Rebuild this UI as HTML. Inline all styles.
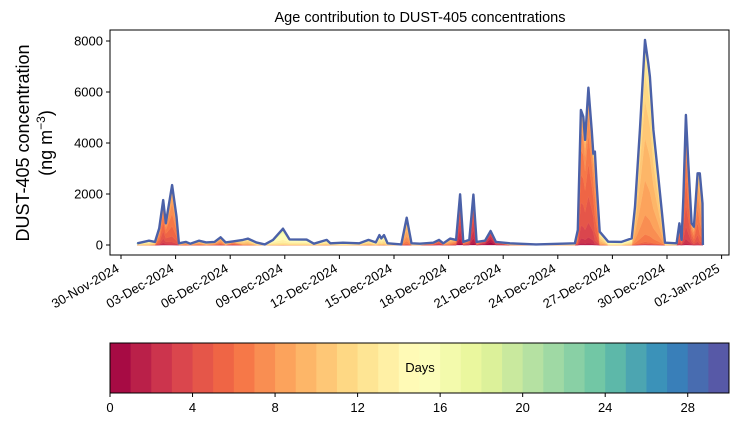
<!DOCTYPE html>
<html><head><meta charset="utf-8"><style>
body{margin:0;background:#fff;}
svg{display:block;font-family:"Liberation Sans",sans-serif;}
</style></head><body>
<svg id="chart" width="739" height="425"></svg>
<script>
const days=[0.9,1.54,1.87,2.1,2.32,2.46,2.81,3.05,3.18,3.56,3.8,4.28,4.68,5.14,5.47,5.75,6.15,6.7,6.97,7.43,7.9,8.35,8.9,9.26,10.2,10.6,11.3,11.5,12.2,13.1,13.6,14,14.2,14.3,14.45,14.65,15.4,15.7,15.96,16.43,17.16,17.47,17.71,18.08,18.41,18.63,18.81,19.14,19.36,19.54,20,20.31,20.6,21.37,22.8,24.94,25.1,25.27,25.4,25.5,25.68,25.86,25.95,26.04,26.13,26.3,26.77,27.5,28.06,28.24,28.51,28.79,28.97,29.06,29.25,29.52,29.89,30.53,30.68,30.8,30.9,31.04,31.17,31.35,31.48,31.68,31.8,31.95,31.97];
const totals=[65,170,120,650,1760,850,2350,1110,65,120,50,170,100,120,300,100,140,200,250,100,25,200,640,220,210,50,200,65,90,65,200,100,390,260,390,65,25,1070,65,50,90,200,65,250,200,1990,120,200,1975,120,170,550,120,65,25,65,590,5300,5030,4120,6170,4510,3590,3660,2420,520,130,120,260,1500,4510,8040,7120,6600,4510,2680,90,65,850,200,1900,5100,3200,850,720,2810,2810,1630,0];
const meanAges=[12,12,10,6,5,5,6,6,10,8,10,8,10,8,7,10,6,10,10,12,12,13,14,13,13,12,12,12,13,12,11,12,12,12,12,12,12,8,12,12,6,4,8,8,6,3,6,4,3,6,2,1,3,10,12,12,6,5,5,5,5,5,5,6,6,10,14,14,12,9,9,9,9,9,9,9,12,12,5,5,5,5,5,5,6,6,7,7,7];
const yTicks=[0,2000,4000,6000,8000];
const xTickDays=[0,3,6,9,12,15,18,21,24,27,30,33];
const xTickLabels=["30-Nov-2024","03-Dec-2024","06-Dec-2024","09-Dec-2024","12-Dec-2024","15-Dec-2024","18-Dec-2024","21-Dec-2024","24-Dec-2024","27-Dec-2024","30-Dec-2024","02-Jan-2025"];
const cbTicks=[0,4,8,12,16,20,24,28];

const NS="http://www.w3.org/2000/svg";
const svg=document.getElementById('chart');
const PL=110,PR=729,PT=30,PB=255;
const xS=d=>121+d*18.2;
const yS=v=>245-v*0.0255;
const anchors=["#9e0142","#d53e4f","#f46d43","#fdae61","#fee08b","#ffffbf","#e6f598","#abdda4","#66c2a5","#3288bd","#5e4fa2"];
function hex(h){return [1,3,5].map(i=>parseInt(h.substr(i,2),16));}
function spectral(t){const p=t*10,i=Math.min(9,Math.floor(p)),f=p-i;const a=hex(anchors[i]),b=hex(anchors[i+1]);return `rgb(${a.map((c,k)=>Math.round(c+(b[k]-c)*f)).join(',')})`;}
function el(tag,attrs,parent){const e=document.createElementNS(NS,tag);for(const k in attrs)e.setAttribute(k,attrs[k]);(parent||svg).appendChild(e);return e;}

function weights(m){const w=[];let s=0;for(let k=0;k<30;k++){const sd=k<m?1.6:2.2;let v=Math.exp(-Math.pow((k-m)/sd,2)/2)+0.004;w.push(v);s+=v;}return w.map(v=>v/s);}
const W=meanAges.map(weights);
const bands=el('g',{});  
const cum=days.map(()=>0);
for(let k=0;k<30;k++){
  const lower=cum.slice();
  for(let i=0;i<days.length;i++)cum[i]+=W[i][k]*totals[i];
  let d='';
  for(let i=0;i<days.length;i++)d+=(i?'L':'M')+xS(days[i]).toFixed(1)+','+yS(cum[i]).toFixed(1);
  for(let i=days.length-1;i>=0;i--)d+='L'+xS(days[i]).toFixed(1)+','+yS(lower[i]).toFixed(1);
  const p=el('path',{d:d+'Z',fill:spectral((k+0.5)/30),stroke:spectral((k+0.5)/30),'stroke-width':k>=20?1.2:0.3},bands);
  
  
}
let ld='';
for(let i=0;i<days.length;i++)ld+=(i?'L':'M')+xS(days[i]).toFixed(1)+','+yS(totals[i]).toFixed(1);
const line=el('path',{d:ld,fill:'none',stroke:'#4b61a8','stroke-width':2.4,'stroke-linejoin':'round'});



const frame=el('rect',{x:PL,y:PT,width:PR-PL,height:PB-PT,fill:'none',stroke:'#000','stroke-width':1});


yTicks.forEach(v=>{
  el('line',{x1:PL-4,x2:PL,y1:yS(v),y2:yS(v),stroke:'#000'});
  const t=el('text',{x:PL-7,y:yS(v)+4.5,'text-anchor':'end','font-size':13});t.textContent=v;
  
  
});
xTickDays.forEach((d,i)=>{
  const x=xS(d);
  el('line',{x1:x,x2:x,y1:PB,y2:PB+4,stroke:'#000'});
  const tx=x-1,ty=PB+16;
  const t=el('text',{x:tx,y:ty,'text-anchor':'end','font-size':13,transform:`rotate(-30 ${tx} ${ty})`});t.textContent=xTickLabels[i];
  
  
});
const title=el('text',{x:420,y:22,'text-anchor':'middle','font-size':14.5});title.textContent='Age contribution to DUST-405 concentrations';


const yl=el('text',{transform:'translate(29,143) rotate(-90)','text-anchor':'middle','font-size':18});


const t1=el('tspan',{x:0,y:0},yl);t1.textContent='DUST-405 concentration';
const t2=el('tspan',{x:0,y:23},yl);t2.innerHTML='(ng m<tspan font-size="12" dy="-7">−3</tspan><tspan dy="7">)</tspan>';

const cb=el('g',{});
const CX0=110,CX1=729,CY=343,CH=50,cw=(CX1-CX0)/30;
for(let k=0;k<30;k++){const r=el('rect',{x:CX0+k*cw,y:CY,width:cw+0.5,height:CH,fill:spectral((k+0.5)/30)},cb);}
el('rect',{x:CX0,y:CY,width:CX1-CX0,height:CH,fill:'none',stroke:'#000'},cb);
const dl=el('text',{x:420,y:372,'text-anchor':'middle','font-size':13},cb);dl.textContent='Days';


cbTicks.forEach(v=>{const x=CX0+v*cw;el('line',{x1:x,x2:x,y1:CY+CH,y2:CY+CH+4,stroke:'#000'},cb);
 const t=el('text',{x:x,y:CY+CH+19,'text-anchor':'middle','font-size':13},cb);t.textContent=v;
 
 });
</script>
</body></html>
